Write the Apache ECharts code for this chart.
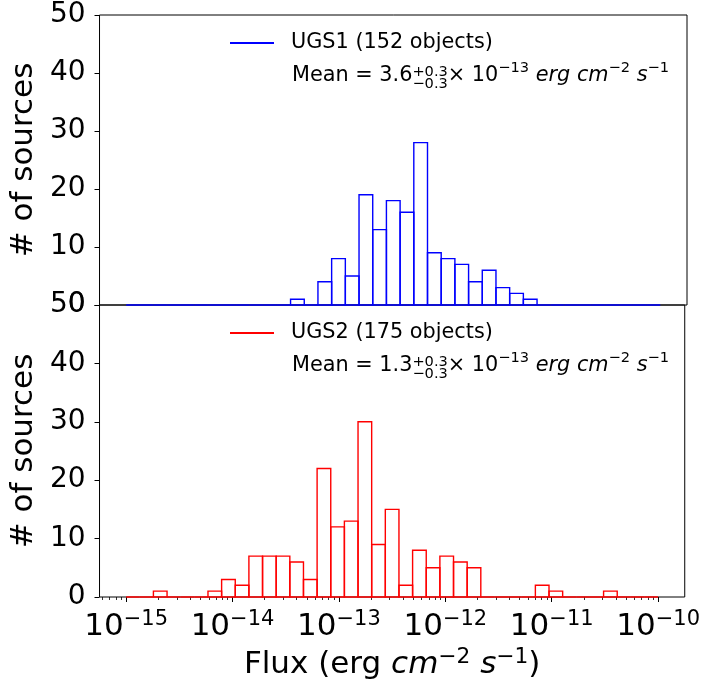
<!DOCTYPE html>
<html><head><meta charset="utf-8">
<script src="https://cdn.jsdelivr.net/npm/echarts@6/dist/echarts.min.js"></script>
<style>html,body{margin:0;padding:0;background:#fff}#c{width:703px;height:684px}</style>
</head><body><div id="c"></div>
<script>
// ---- data ----
const binRange = [-15, -10];      // log10 flux range of the histogram bins
const binCount = 39;
const ugs1Counts = [0,0,0,0,0,0,0,0,0,0,0,0,1,0,4,8,5,19,13,18,16,28,9,8,7,4,6,3,2,1,0,0,0,0,0,0,0,0,0];
const ugs2Counts = [0,0,1,0,0,0,1,3,2,7,7,7,6,3,22,12,13,30,9,15,2,8,5,7,6,5,0,0,0,0,2,1,0,0,0,1,0,0,0];
const xTickExps = [-15,-14,-13,-12,-11,-10];
const yTickMax = 50, yTickStep = 10;
const series1Name = 'UGS1 (152 objects)';
const series2Name = 'UGS2 (175 objects)';
const mean1 = '3.6', mean2 = '1.3';
const meanErr = ['+0.3', '\u22120.3'];
const meanExp = '\u221213';

// ---- helpers ----
const FAM = 'DejaVu Sans';
const binW = (binRange[1] - binRange[0]) / binCount;
function rows(counts){ return counts.map((c,i)=>[binRange[0]+i*binW, binRange[0]+(i+1)*binW, c]); }
const span = binRange[1]-binRange[0];
const xMin = binRange[0] - 0.05*span, xMax = binRange[1] + 0.05*span;
const minorTicks = [];
for (let n = -16; n <= -10; n++) for (let k = 2; k <= 9; k++) {
  const v = n + Math.log10(k); if (v > xMin && v < xMax) minorTicks.push(v);
}
function makeRender(color){
  return function(params, api){
    const p0 = api.coord([api.value(0), api.value(2)]);
    const p1 = api.coord([api.value(1), 0]);
    return {type:'rect', shape:{x:p0[0], y:p0[1], width:p1[0]-p0[0], height:p1[1]-p0[1]},
      style:{fill:'none', stroke:color, lineWidth:1.4}};
  };
}
const ctx = document.createElement('canvas').getContext('2d');
function tw(t, fs, it){ ctx.font = (it?'italic ':'') + fs + 'px "' + FAM + '"'; return ctx.measureText(t).width; }
function meanElems(x0, y, val){
  const big = 20.8, small = 14.6;
  const els = []; let x = x0;
  const add = (t, fs, dy, it) => {
    els.push({type:'text', x:x, y:y+dy, silent:true,
      style:{text:t, fontSize:fs, fontFamily:FAM, fontStyle:it?'italic':'normal', fill:'#000', verticalAlign:'middle', align:'left'}});
    x += tw(t, fs, it);
  };
  add('Mean = ' + val, big, 0);
  const sx = x; add(meanErr[0], small, -4); const w1 = x - sx; x = sx; add(meanErr[1], small, 8); x = sx + Math.max(w1, x - sx);
  add('\u00d7 10', big, 0);
  add(meanExp, small, -8);
  add(' erg', big, 0, true);
  add(' cm', big, 0, true);
  add('\u22122', small, -8);
  add(' s', big, 0, true);
  add('\u22121', small, -8);
  return els;
}

function yAxisCfg(g){
  return {gridIndex:g, type:'value', min:0, max:yTickMax, interval:yTickStep,
    axisLine:{show:false}, splitLine:{show:false},
    axisTick:{show:true, length:5, lineStyle:{color:'#000', width:1}},
    axisLabel:{fontSize:28, fontFamily:FAM, color:'#000', margin:14},
    name:'# of sources', nameLocation:'middle', nameRotate:90, nameGap:58,
    nameTextStyle:{fontSize:31, fontFamily:FAM, color:'#000'}};
}

const chart = echarts.init(document.getElementById('c'), null, {renderer:'canvas'});
chart.setOption({
  backgroundColor:'#fff',
  animation:false,
  grid:[
    {left:99, top:15, width:588, height:290, show:true, borderColor:'#000', borderWidth:1, backgroundColor:'transparent'},
    {left:99, top:305, width:588, height:292, show:true, borderColor:'#000', borderWidth:1, backgroundColor:'transparent'}
  ],
  xAxis:[
    {gridIndex:0, type:'value', min:xMin, max:xMax, axisLine:{show:false}, axisTick:{show:false}, axisLabel:{show:false}, splitLine:{show:false}},
    {gridIndex:1, type:'value', min:xMin, max:xMax, position:'bottom', axisLine:{show:false}, splitLine:{show:false},
      axisTick:{show:true, length:5, lineStyle:{color:'#000', width:1}, customValues:xTickExps},
      axisLabel:{customValues:xTickExps, margin:12, hideOverlap:false,
        formatter:v => '{b|10}{s|\u2212' + Math.abs(Math.round(v)) + '}',
        rich:{b:{fontSize:31, fontFamily:FAM, color:'#000'}, s:{fontSize:21, fontFamily:FAM, color:'#000', padding:[0,0,15,0]}}},
      name:'Flux (erg {i|cm}{s|\u22122} {i|s}{s|\u22121})', nameLocation:'middle', nameGap:49,
      nameTextStyle:{fontSize:31, fontFamily:FAM, color:'#000',
        rich:{i:{fontSize:31, fontFamily:FAM, fontStyle:'italic', color:'#000'}, s:{fontSize:21.7, fontFamily:FAM, color:'#000', padding:[0,0,16,0]}}}},
    {gridIndex:1, type:'value', min:xMin, max:xMax, position:'bottom', axisLine:{show:false}, splitLine:{show:false}, axisLabel:{show:false},
      axisTick:{show:true, length:3, lineStyle:{color:'#000', width:0.8}, customValues:minorTicks}}
  ],
  yAxis:[yAxisCfg(0), yAxisCfg(1)],
  legend:[
    {data:[{name:series1Name, icon:'rect'}], left:230, top:31, itemWidth:44, itemHeight:2, padding:0, selectedMode:false,
      textStyle:{fontSize:20.8, fontFamily:FAM, color:'#000', padding:[0,0,0,12], lineHeight:24}},
    {data:[{name:series2Name, icon:'rect'}], left:230, top:321, itemWidth:44, itemHeight:2, padding:0, selectedMode:false,
      textStyle:{fontSize:20.8, fontFamily:FAM, color:'#000', padding:[0,0,0,12], lineHeight:24}}
  ],
  series:[
    {type:'custom', name:series1Name, xAxisIndex:0, yAxisIndex:0, data:rows(ugs1Counts), encode:{x:[0,1], y:2},
      renderItem:makeRender('#0000ff'), itemStyle:{color:'#0000ff'}, clip:false},
    {type:'custom', name:series2Name, xAxisIndex:1, yAxisIndex:1, data:rows(ugs2Counts), encode:{x:[0,1], y:2},
      renderItem:makeRender('#ff0000'), itemStyle:{color:'#ff0000'}, clip:false}
  ],
  graphic:[...meanElems(292, 76, mean1), ...meanElems(292, 366, mean2)]
});
</script></body></html>
